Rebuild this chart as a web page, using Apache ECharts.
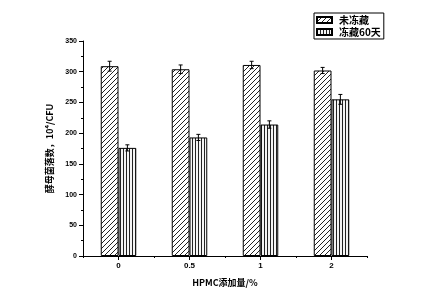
<!DOCTYPE html>
<html><head><meta charset="utf-8">
<script src="https://cdn.jsdelivr.net/npm/echarts@6/dist/echarts.min.js"></script>
<style>html,body{margin:0;padding:0;background:#fff}#c{width:426px;height:306px}</style>
</head><body><div id="c"></div>
<script>
var categories = ['0', '0.5', '1', '2'];
var seriesNames = ['未冻藏', '冻藏60天'];
var unfrozen = [309, 304, 311, 302];
var unfrozenErr = [8, 7, 6, 5];
var frozen60 = [176, 193, 214, 255];
var frozen60Err = [5, 5, 6, 8];
var yTicks = [0, 50, 100, 150, 200, 250, 300, 350];

function makePattern(kind) {
  var c = document.createElement('canvas');
  var ctx;
  if (kind === 'diag') {
    c.width = 5; c.height = 5;
    ctx = c.getContext('2d');
    ctx.fillStyle = '#fff'; ctx.fillRect(0, 0, 5, 5);
    ctx.strokeStyle = '#222'; ctx.lineWidth = 1;
    ctx.beginPath();
    ctx.moveTo(-1, 6); ctx.lineTo(6, -1);
    ctx.moveTo(-1, 1); ctx.lineTo(1, -1);
    ctx.moveTo(4, 6); ctx.lineTo(6, 4);
    ctx.stroke();
  } else {
    c.width = 3; c.height = 3;
    ctx = c.getContext('2d');
    ctx.fillStyle = '#f4f4f4'; ctx.fillRect(0, 0, 3, 3);
    ctx.fillStyle = '#222'; ctx.fillRect(0, 0, 1, 3);
  }
  return { image: c, repeat: 'repeat' };
}

var chart = echarts.init(document.getElementById('c'), null, { renderer: 'canvas' });
var fontCN = '"Noto Sans CJK SC", "Liberation Sans", sans-serif';
var fontN = '"Liberation Sans", Arial, sans-serif';

function errSeries(vals, errs, sign) {
  return {
    type: 'custom',
    silent: true,
    z: 5,
    data: vals.map(function (v, i) { return [i, v, errs[i]]; }),
    renderItem: function (params, api) {
      var idx = api.value(0), v = api.value(1), e = api.value(2);
      var band = api.size([1, 0])[0];
      var off = sign * band * 0.125;
      var hi = api.coord([idx, v + e]);
      var lo = api.coord([idx, v - e]);
      var x = hi[0] + off;
      var cap = 2;
      var st = { stroke: '#000', lineWidth: 1 };
      return {
        type: 'group',
        children: [
          { type: 'line', shape: { x1: x, y1: hi[1], x2: x, y2: lo[1] }, style: st },
          { type: 'line', shape: { x1: x - cap, y1: hi[1], x2: x + cap, y2: hi[1] }, style: st },
          { type: 'line', shape: { x1: x - cap, y1: lo[1], x2: x + cap, y2: lo[1] }, style: st }
        ]
      };
    }
  };
}

chart.setOption({
  animation: false,
  backgroundColor: '#fff',
  grid: { left: 83, right: 59, top: 41, bottom: 50 },
  legend: {
    orient: 'vertical',
    left: 314, top: 13,
    data: seriesNames,
    icon: 'rect',
    itemWidth: 15, itemHeight: 6, itemGap: 2,
    padding: [2, 3, 2, 2],
    borderColor: '#000', borderWidth: 1, borderRadius: 0,
    textStyle: { fontFamily: fontCN, fontSize: 10, fontWeight: 'bold', color: '#000', padding: [0, 0, 0, 2] }
  },
  xAxis: [{
    type: 'category',
    data: categories,
    name: 'HPMC添加量/%',
    nameLocation: 'middle',
    nameGap: 22,
    nameTextStyle: { fontFamily: fontCN, fontSize: 9, fontWeight: 'bold', color: '#000' },
    axisLine: { lineStyle: { color: '#000', width: 1 } },
    axisTick: { show: true, alignWithLabel: true, length: 4, inside: false, lineStyle: { color: '#000' } },
    axisLabel: { fontFamily: fontN, fontSize: 8, fontWeight: 'bold', color: '#000', margin: 6 },
    splitLine: { show: false }
  }, {
    type: 'category',
    data: categories,
    position: 'bottom',
    axisLine: { show: false },
    axisTick: { show: true, alignWithLabel: false, length: 2, lineStyle: { color: '#000' } },
    axisLabel: { show: false },
    splitLine: { show: false }
  }],
  yAxis: {
    type: 'value',
    min: yTicks[0], max: yTicks[yTicks.length - 1], interval: 50,
    name: '酵母菌落数，10⁴/CFU',
    nameLocation: 'middle',
    nameGap: 28,
    nameTextStyle: { fontFamily: fontCN, fontSize: 9, fontWeight: 'bold', color: '#000' },
    axisLine: { show: true, lineStyle: { color: '#000', width: 1 } },
    axisTick: { show: true, length: 4, lineStyle: { color: '#000' } },
    minorTick: { show: true, splitNumber: 2, length: 2, lineStyle: { color: '#000' } },
    axisLabel: { fontFamily: fontN, fontSize: 7, fontWeight: 'bold', color: '#000', margin: 6 },
    splitLine: { show: false }
  },
  series: [{
    name: seriesNames[0],
    type: 'bar',
    data: unfrozen,
    barWidth: '25%',
    barGap: '0%',
    itemStyle: { color: makePattern('diag'), borderColor: '#000', borderWidth: 1 }
  }, {
    name: seriesNames[1],
    type: 'bar',
    data: frozen60,
    barWidth: '25%',
    barGap: '0%',
    itemStyle: { color: makePattern('vert'), borderColor: '#000', borderWidth: 1 }
  },
  errSeries(unfrozen, unfrozenErr, -1),
  errSeries(frozen60, frozen60Err, 1)
  ]
});
</script>
</body></html>
